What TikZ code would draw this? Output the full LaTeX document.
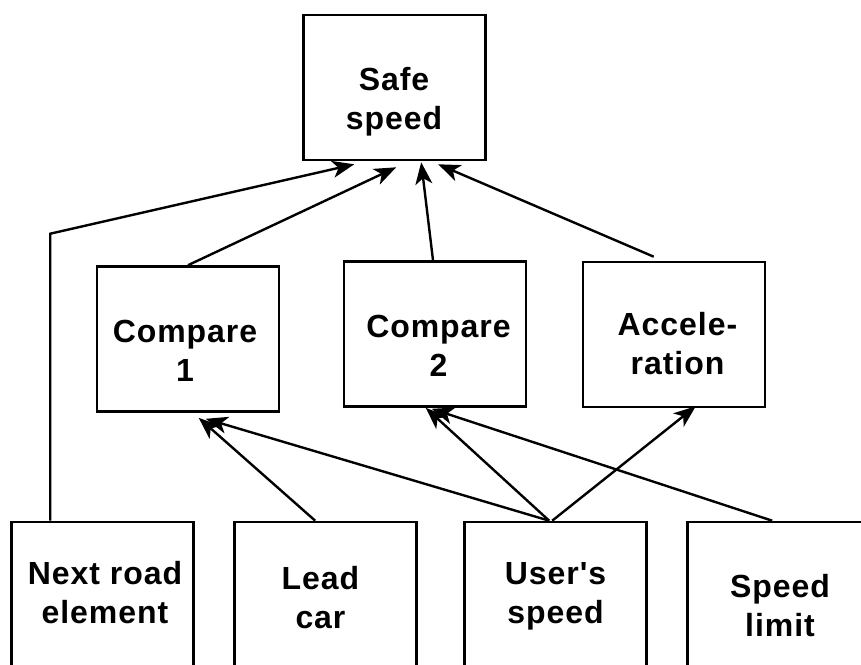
\documentclass[tikz,border=0pt]{standalone}
\usepackage{fontspec}
\setmainfont{Liberation Sans}[LetterSpace=3, Ligatures=TeXOff]
\usetikzlibrary{arrows.meta,calc}
\tikzset{
  box/.style={draw, line width=2.6pt, rectangle, minimum width=182pt, minimum height=145pt, inner sep=0pt},
  lbl/.style={align=center, inner sep=0pt, font=\fontsize{32}{39}\selectfont\bfseries},
  link/.style={line width=2.4pt},
  arr/.style={link, -{Stealth[length=22pt,width=17pt,inset=6pt]}}
}
\begin{document}
\begin{tikzpicture}[x=1pt,y=-1pt]
  \useasboundingbox (0,0) rectangle (861,664);
  \clip (0,0) rectangle (861,664);
  % boxes
  \node[box] (safe)  at (394.5,87.5)  {};
  \node[box] (cmp1)  at (188,339)     {};
  \node[box] (cmp2)  at (435,334)     {};
  \node[box] (acc)   at (674,334.5)   {};
  \node[box] (next)  at (102.5,594.5) {};
  \node[box] (lead)  at (325.5,594.5) {};
  \node[box] (user)  at (555.5,594.5) {};
  \node[box] (limit) at (778.5,594.5) {};
  % box texts
  \node[lbl] (safeT)  at (394,102)    {Safe\\speed};
  \node[lbl] (cmp1T)  at (185,351)    {Compare\\1};
  \node[lbl] (cmp2T)  at (438.5,346)  {Compare\\2};
  \node[lbl] (accT)   at (677.5,344)  {Accele-\\ration};
  \node[lbl] (nextT)  at (105,592.5)  {Next road\\element};
  \node[lbl] (leadT)  at (320.5,597.5){Lead\\car};
  \node[lbl] (userT)  at (555.5,596)  {User's\\speed};
  \node[lbl] (limitT) at (780,606)    {Speed\\limit};
  % bend point of the left feed line
  \coordinate (bend) at ($(next.north west)+(40,-287)$);
  % inputs to the safe speed
  \draw[arr] ($(next.north west)+(40,0)$) -- (bend) -- ($(safe.south west)+(52,3)$);
  \draw[arr] (cmp1.north) -- ($(safe.south west)+(94,6)$);
  \draw[arr] ($(cmp2.north)+(-2,0)$) -- ($(safe.south west)+(119,1)$);
  \draw[arr] ($(acc.north west)+(72,-4)$) -- ($(safe.south west)+(136,3)$);
  % inputs to the comparisons and acceleration
  \draw[arr] ($(lead.north west)+(82,0)$) -- ($(cmp1.south west)+(103,5)$);
  \draw[arr] ($(user.north west)+(86,0)$) -- ($(cmp1.south west)+(110,6)$);
  \draw[arr] ($(user.north west)+(86,0)$) -- ($(cmp2.south west)+(83,0)$);
  \draw[arr] ($(limit.north west)+(86,0)$) -- ($(cmp2.south west)+(89,1)$);
  \draw[arr] ($(user.north west)+(89,0)$) -- ($(acc.south west)+(114,-2)$);
\end{tikzpicture}
\end{document}
